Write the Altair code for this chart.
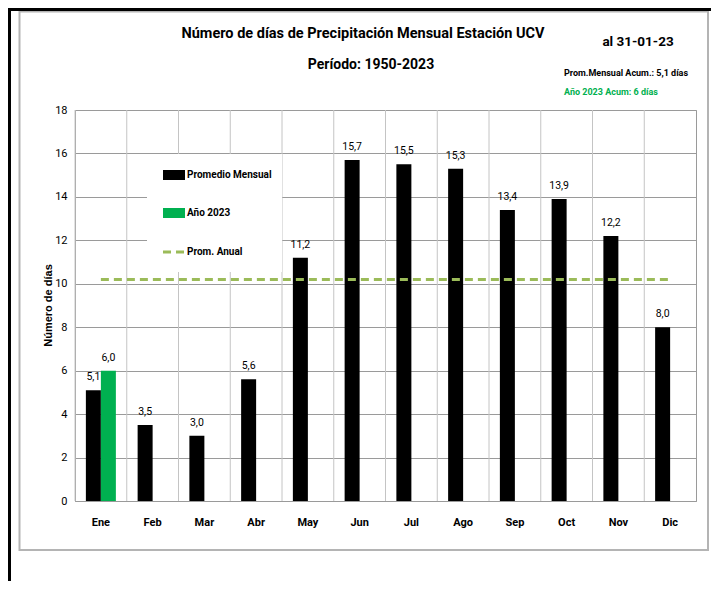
import altair as alt
import pandas as pd

# ---------------- data ----------------
months = ["Ene", "Feb", "Mar", "Abr", "May", "Jun", "Jul", "Ago", "Sep", "Oct", "Nov", "Dic"]
promedio = [5.1, 3.5, 3.0, 5.6, 11.2, 15.7, 15.5, 15.3, 13.4, 13.9, 12.2, 8.0]
anio_2023_months = ["Ene"]
anio_2023 = [6.0]
prom_anual = 10.2
series = ["Promedio Mensual", "Año 2023"]
line_name = "Prom. Anual"
y_ticks = [0, 2, 4, 6, 8, 10, 12, 14, 16, 18]

title_1 = "Número de días de Precipitación Mensual Estación UCV"
title_2 = "Período: 1950-2023"
date_txt = "al 31-01-23"
acum_prom_txt = "Prom.Mensual  Acum.: 5,1 días"
acum_2023_txt = "Año 2023 Acum: 6 días"
y_title = "Número de días"

# ---------------- tables ----------------
bars_df = pd.DataFrame({
    "mes": months + anio_2023_months,
    "valor": promedio + anio_2023,
    "serie": [series[0]] * len(months) + [series[1]] * len(anio_2023),
})
bars_df["etiqueta"] = bars_df["valor"].map(lambda v: f"{v:.1f}".replace(".", ","))
months_df = pd.DataFrame({"mes": months})
line_df = pd.DataFrame({"m1": [months[0]], "m2": [months[-1]], "valor": [prom_anual]})
one = pd.DataFrame({"k": [0]})

FONT = "Roboto, Liberation Sans, sans-serif"
W, H = 621, 391
BLACK = "#000000"
GREEN = "#00B050"
OLIVE = "#9BBB59"

x_scale = alt.Scale(domain=months, paddingInner=0, paddingOuter=0)
y_scale = alt.Scale(domain=[0, 18], nice=False)
off_scale = alt.Scale(domain=series, paddingInner=0, paddingOuter=0.725)

x_axis = alt.Axis(title=None, grid=False, ticks=False, labelAngle=0, labelFont=FONT,
                  labelFontWeight="bold", labelFontSize=11, labelColor="black",
                  labelPadding=15, domain=True, domainColor="#9a9a9a")
y_axis = alt.Axis(title=None, values=y_ticks, grid=True, gridColor="#9a9a9a", ticks=False,
                  domain=False, labelPadding=8, labelFont=FONT, labelFontSize=11,
                  labelColor="black")

# vertical gridlines at the category boundaries
vgrid = alt.Chart(months_df).mark_rule(color="#c4c4c4", strokeWidth=1).encode(
    x=alt.X("mes:N", sort=months, scale=x_scale, bandPosition=0, axis=x_axis),
    y=alt.value(0), y2=alt.value(H),
)

# legend box (white, covers the grid)
leg_box = alt.Chart(one).mark_rect(fill="white").encode(
    x=alt.value(72), x2=alt.value(207), y=alt.value(44), y2=alt.value(162))
leg_sw1 = alt.Chart(one).mark_rect(fill=BLACK).encode(
    x=alt.value(88), x2=alt.value(110), y=alt.value(60), y2=alt.value(70))
leg_sw2 = alt.Chart(one).mark_rect(fill=GREEN).encode(
    x=alt.value(88), x2=alt.value(110), y=alt.value(98), y2=alt.value(108))
leg_sw3 = alt.Chart(one).mark_rule(color=OLIVE, strokeWidth=3, strokeDash=[8, 5]).encode(
    x=alt.value(88), x2=alt.value(111), y=alt.value(142))
leg_txt = [
    alt.Chart(one).mark_text(align="left", baseline="middle", font=FONT, fontWeight="bold",
                             fontSize=10, color="black").encode(
        x=alt.value(112), y=alt.value(yy), text=alt.value(t))
    for t, yy in zip(series + [line_name], [65, 103, 142])
]

bars = alt.Chart(bars_df).mark_bar().encode(
    x=alt.X("mes:N", sort=months, scale=x_scale, axis=x_axis),
    xOffset=alt.XOffset("serie:N", scale=off_scale),
    y=alt.Y("valor:Q", scale=y_scale, axis=y_axis),
    color=alt.Color("serie:N", scale=alt.Scale(domain=series, range=[BLACK, GREEN]), legend=None),
)

labels = alt.Chart(bars_df).mark_text(baseline="middle", dy=-13, font=FONT, fontSize=10.5,
                                      color="black").encode(
    x=alt.X("mes:N", sort=months, scale=x_scale),
    xOffset=alt.XOffset("serie:N", scale=off_scale),
    y=alt.Y("valor:Q", scale=y_scale),
    text="etiqueta:N",
)

avg_line = alt.Chart(line_df).mark_rule(color=OLIVE, strokeWidth=3, strokeDash=[8, 5]).encode(
    x=alt.X("m1:N", scale=x_scale), x2="m2:N",
    y=alt.Y("valor:Q", scale=y_scale),
)

# frames
gray_frame = alt.Chart(one).mark_rect(fillOpacity=0, stroke="#b4b4b4", strokeWidth=2).encode(
    x=alt.value(-55.5), x2=alt.value(633), y=alt.value(-98.5), y2=alt.value(440))
black_top = alt.Chart(one).mark_rule(color="black", strokeWidth=3).encode(
    x=alt.value(-67), x2=alt.value(640), y=alt.value(-100.5))
black_left = alt.Chart(one).mark_rule(color="black", strokeWidth=3).encode(
    x=alt.value(-65.5), y=alt.value(-102), y2=alt.value(H + 80))

# titles / annotations
def txt(t, x, y, size, color="black", align="center", weight="bold", font=FONT):
    return alt.Chart(one).mark_text(align=align, baseline="middle", font=font,
                                    fontWeight=weight, fontSize=size, color=color).encode(
        x=alt.value(x), y=alt.value(y), text=alt.value(t))

t1 = txt(title_1, 288, -76, 14.5)
t2 = txt(title_2, 296, -45, 14)
t3 = txt(date_txt, 563, -68, 13.5)
t4 = txt(acum_prom_txt, 489, -37, 9, align="left")
t5 = txt(acum_2023_txt, 489, -18, 9, color=GREEN, align="left")
ytitle = alt.Chart(one).mark_text(angle=270, baseline="middle", align="center",
                                  font="Liberation Sans, Arial, sans-serif", fontWeight="bold",
                                  fontSize=11, color="black").encode(
    x=alt.value(-26), y=alt.value(H / 2), text=alt.value(y_title))

chart = alt.layer(
    gray_frame, black_top, black_left,
    vgrid, leg_box, leg_sw1, leg_sw2, leg_sw3, *leg_txt,
    bars, avg_line, labels,
    t1, t2, t3, t4, t5, ytitle,
).properties(
    width=W, height=H,
    padding={"left": 67, "top": 102, "right": 15, "bottom": 80},
    autosize=alt.AutoSizeParams(type="none"),
    background="white",
).configure_view(stroke="#9a9a9a", strokeWidth=1)

chart.save("out.html", embed_options={"renderer": "svg", "actions": False})
